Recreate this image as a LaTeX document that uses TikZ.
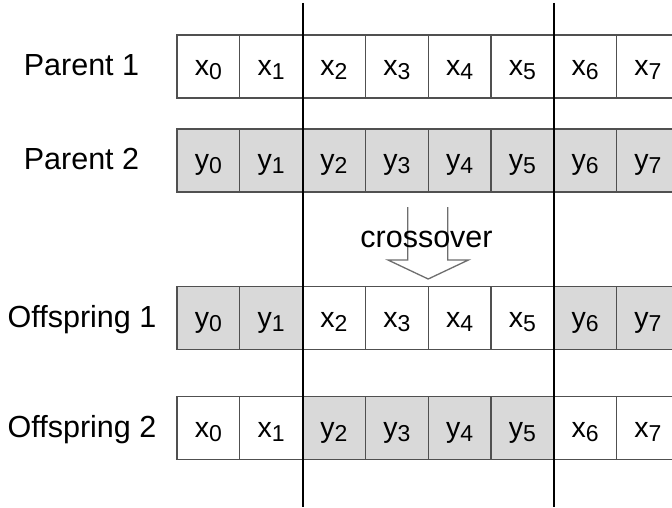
\documentclass[tikz,border=0pt]{standalone}
\usepackage{fontspec}
\setmainfont{Liberation Sans}
\definecolor{cellfill}{RGB}{217,217,217}
\definecolor{cellline}{RGB}{80,80,80}
\definecolor{arrowline}{RGB}{110,110,110}
\newcommand{\gx}[2]{{\fontsize{28.5}{30}\selectfont #1\raisebox{-4.5pt}{\fontsize{23}{24}\selectfont #2}}}
\tikzset{
  cellbox/.style={draw=cellline, line width=1.3pt, minimum width=62.8pt, minimum height=63pt,
    inner sep=0pt, text height=20pt, text depth=2pt, fill=white},
  graycell/.style={cellbox, fill=cellfill},
  rowlabel/.style={inner sep=0pt, text height=20pt, text depth=2pt, font=\fontsize{30.5}{32}\selectfont},
  cutline/.style={black, line width=1.8pt},
  blockarrow/.style={draw=arrowline, line width=1.3pt, line join=miter},
}
\begin{document}
\begin{tikzpicture}[x=1pt,y=-1pt]
\clip (0,0) rectangle (672,508);
\fill[white] (0,0) rectangle (672,508);
% row labels
\node[rowlabel] (lp1) at (81.5,66.5) {Parent 1};
\node[rowlabel] (lp2) at (81.5,160.5) {Parent 2};
\node[rowlabel] (lo1) at (82,318) {Offspring 1};
\node[rowlabel] (lo2) at (82,428) {Offspring 2};
% Parent 1
\foreach \i in {0,...,7} {
  \node[cellbox] (p1c\i) at (208.4+62.8*\i,66.5) {\gx{x}{\i}};
}
% Parent 2
\foreach \i in {0,...,7} {
  \node[graycell] (p2c\i) at (208.4+62.8*\i,160.5) {\gx{y}{\i}};
}
% Offspring 1
\foreach \i in {0,1,6,7} {
  \node[graycell] (o1c\i) at (208.4+62.8*\i,318) {\gx{y}{\i}};
}
\foreach \i in {2,...,5} {
  \node[cellbox] (o1c\i) at (208.4+62.8*\i,318) {\gx{x}{\i}};
}
% Offspring 2
\foreach \i in {0,1,6,7} {
  \node[cellbox] (o2c\i) at (208.4+62.8*\i,428) {\gx{x}{\i}};
}
\foreach \i in {2,...,5} {
  \node[graycell] (o2c\i) at (208.4+62.8*\i,428) {\gx{y}{\i}};
}
% crossover arrow
\coordinate (atl) at (407.8,207);
\coordinate (atr) at (447.8,207);
\coordinate (atip) at (428.2,279);
\draw[blockarrow] (atl) -- (407.8,260) -- (388,260) -- (atip) -- (468.4,260) -- (447.8,260) -- (atr);
\node[rowlabel] (cross) at (426.5,238) {crossover};
% cut lines
\coordinate (cut1t) at (302.6,3);
\coordinate (cut1b) at (302.6,507);
\coordinate (cut2t) at (553.8,3);
\coordinate (cut2b) at (553.8,507);
\draw[cutline] (cut1t) -- (cut1b);
\draw[cutline] (cut2t) -- (cut2b);
\end{tikzpicture}
\end{document}
